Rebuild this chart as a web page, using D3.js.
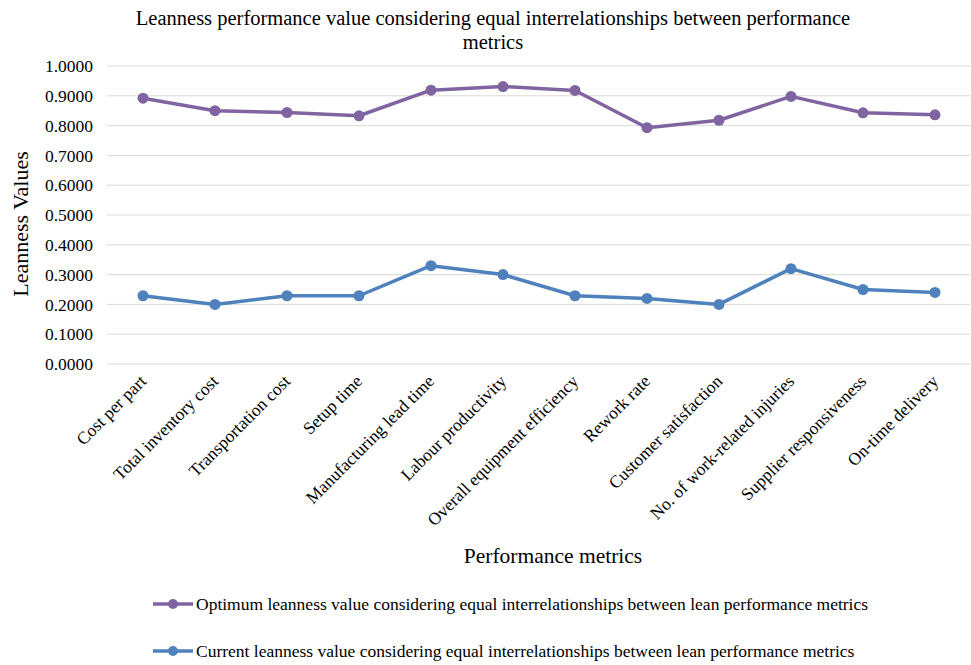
<!DOCTYPE html>
<html><head><meta charset="utf-8">
<script src="https://cdn.jsdelivr.net/npm/d3@7"></script>
<style>body{margin:0;background:#fff}svg{display:block}text{font-family:"Liberation Serif","Times New Roman",serif;fill:#000}</style>
</head><body><svg id="c" width="971" height="665"></svg>
<script>
const categories = ["Cost per part","Total inventory cost","Transportation cost","Setup time","Manufacturing lead time","Labour productivity","Overall equipment efficiency","Rework rate","Customer satisfaction","No. of work-related injuries","Supplier responsiveness","On-time delivery"];
const optimumValues = [0.892,0.850,0.844,0.833,0.919,0.931,0.918,0.793,0.818,0.898,0.843,0.836];
const currentValues = [0.229,0.200,0.229,0.229,0.330,0.300,0.229,0.220,0.200,0.320,0.250,0.240];
const yTicks = [0,0.1,0.2,0.3,0.4,0.5,0.6,0.7,0.8,0.9,1.0];
const seriesNames = ["Optimum leanness value considering equal interrelationships between lean performance metrics","Current leanness value considering equal interrelationships between lean performance metrics"];
const colors = ["#8064A2","#4F81BD"];

const svg = d3.select("#c");
const pLeft = 107, pRight = 971, pTop = 66, pBottom = 364;
const x = d3.scaleBand().domain(categories).range([pLeft, pRight]);
const y = d3.scaleLinear().domain([0,1]).range([pBottom, pTop]);

// gridlines
svg.append("g").selectAll("line").data(yTicks).join("line")
  .attr("x1", pLeft).attr("x2", pRight-1)
  .attr("y1", d=>y(d)).attr("y2", d=>y(d))
  .attr("stroke", "#d9d9d9").attr("stroke-width", 1);

// y axis
const ya = svg.append("g").attr("transform", `translate(${pLeft},0)`)
  .call(d3.axisLeft(y).tickValues(yTicks).tickFormat(d3.format(".4f")).tickSize(0).tickPadding(14));
ya.select(".domain").remove();
ya.selectAll("text").attr("font-size", 17.5).style("font-family", '"Liberation Serif",serif');

// x axis labels
const xa = svg.append("g").attr("transform", `translate(0,${pBottom})`)
  .call(d3.axisBottom(x).tickSize(0));
xa.select(".domain").remove();
xa.selectAll("text")
  .attr("font-size", 17.5).style("font-family", '"Liberation Serif",serif')
  .attr("text-anchor", "end")
  .attr("transform", "translate(0,14) rotate(-45)")
  .attr("dy", "0.35em").attr("y", 0).attr("x", 0);

// series
const series = [optimumValues, currentValues];
const line = d3.line().x((d,i)=>x(categories[i])+x.bandwidth()/2).y(d=>y(d));
series.forEach((vals, si) => {
  svg.append("path").datum(vals).attr("d", line)
    .attr("fill","none").attr("stroke", colors[si]).attr("stroke-width", 3.5).attr("stroke-linejoin","round");
  svg.append("g").selectAll("circle").data(vals).join("circle")
    .attr("cx",(d,i)=>x(categories[i])+x.bandwidth()/2).attr("cy", d=>y(d))
    .attr("r", 5.5).attr("fill", colors[si]);
});

// title
svg.append("text").attr("x", 493).attr("y", 25).attr("text-anchor","middle").attr("font-size", 20.5)
  .text("Leanness performance value considering equal interrelationships between performance");
svg.append("text").attr("x", 493).attr("y", 49).attr("text-anchor","middle").attr("font-size", 20.5)
  .text("metrics");

// axis titles
svg.append("text").attr("transform","translate(28,224) rotate(-90)").attr("text-anchor","middle")
  .attr("font-size", 22).text("Leanness Values");
svg.append("text").attr("x", 553).attr("y", 563).attr("text-anchor","middle")
  .attr("font-size", 21.5).text("Performance metrics");

// legend
const legY = [604, 651];
seriesNames.forEach((n, i) => {
  const g = svg.append("g");
  g.append("line").attr("x1",153).attr("x2",193).attr("y1",legY[i]).attr("y2",legY[i])
    .attr("stroke", colors[i]).attr("stroke-width", 3.5);
  g.append("circle").attr("cx",173).attr("cy",legY[i]).attr("r",5).attr("fill",colors[i]);
  g.append("text").attr("x",196).attr("y",legY[i]).attr("dy","0.35em").attr("font-size",17.5).text(n);
});
</script></body></html>
